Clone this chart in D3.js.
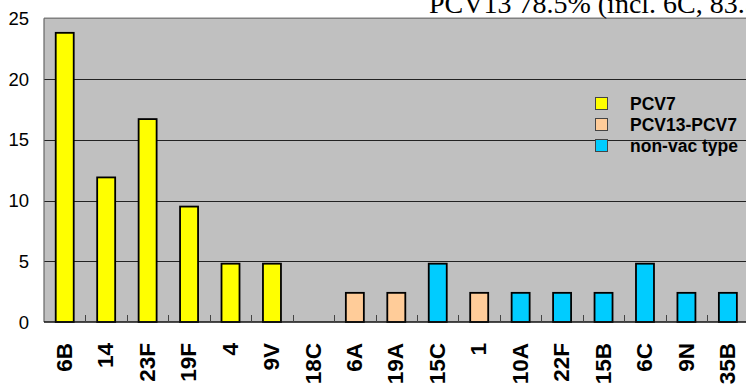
<!DOCTYPE html>
<html><head><meta charset="utf-8">
<script src="https://cdn.jsdelivr.net/npm/d3@7"></script>
<style>html,body{margin:0;padding:0;background:#fff;overflow:hidden}</style>
</head><body>
<svg id="c" width="746" height="387"></svg>
<script>
const categories = ["6B","14","23F","19F","4","9V","18C","6A","19A","15C","1","10A","22F","15B","6C","9N","35B"];
const values = [23.8,11.9,16.7,9.5,4.8,4.8,0,2.4,2.4,4.8,2.4,2.4,2.4,2.4,4.8,2.4,2.4];
const groups = ["PCV7","PCV7","PCV7","PCV7","PCV7","PCV7","PCV7","PCV13-PCV7","PCV13-PCV7","non-vac type","PCV13-PCV7","non-vac type","non-vac type","non-vac type","non-vac type","non-vac type","non-vac type"];
const legendLabels = ["PCV7","PCV13-PCV7","non-vac type"];
const legendColors = ["#ffff00","#ffcc99","#00ccff"];
const yTicks = [0,5,10,15,20,25];
const titleText = "PCV13 78.5% (incl. 6C, 83.5%)";

(function(){
const svg = d3.select("#c");
const pL = 44, pR = 748.6, pT = 18.25, pB = 322;
const x = d3.scaleBand().domain(categories).range([pL, pR]);
const y = d3.scaleLinear().domain([0,25]).range([pB, pT]);
const color = d3.scaleOrdinal().domain(legendLabels).range(legendColors);

svg.append("rect").attr("x", pL).attr("y", pT).attr("width", pR-pL).attr("height", pB-pT).attr("fill", "#c0c0c0");

svg.append("g").selectAll("line").data(yTicks.filter(d => d>0 && d<25)).join("line")
  .attr("x1", pL).attr("x2", pR).attr("y1", d => Math.round(y(d))+0.5).attr("y2", d => Math.round(y(d))+0.5)
  .attr("stroke", "#222").attr("stroke-width", 1);

svg.append("line").attr("x1", pL).attr("x2", pR).attr("y1", pT).attr("y2", pT).attr("stroke", "#808080").attr("stroke-width", 1.5);
svg.append("line").attr("x1", pL).attr("x2", pL).attr("y1", pT).attr("y2", pB).attr("stroke", "#666").attr("stroke-width", 1.2);

const lg = svg.append("g");
legendLabels.forEach((l, i) => {
  const cy = 103.5 + i*21;
  lg.append("rect").attr("x", 595.5).attr("y", cy-6).attr("width", 12).attr("height", 12)
    .attr("fill", legendColors[i]).attr("stroke", "#444").attr("stroke-width", 1);
  lg.append("text").attr("x", 630).attr("y", cy).attr("dy", "0.36em")
    .attr("font-family", "Liberation Sans, Arial, sans-serif").attr("font-weight", "bold")
    .attr("font-size", 17.5).attr("fill", "#000")
    .attr("textLength", i === 2 ? 108 : null)
    .text(l);
});

const bw = 18;
svg.append("g").selectAll("rect").data(categories.map((c,i)=>({c, v: values[i], g: groups[i]})).filter(d => d.v > 0)).join("rect")
  .attr("x", d => x(d.c) + x.bandwidth()/2 - bw/2)
  .attr("y", d => y(d.v))
  .attr("width", bw)
  .attr("height", d => y(0) - y(d.v))
  .attr("fill", d => color(d.g))
  .attr("stroke", "#000").attr("stroke-width", 1.8);

svg.append("line").attr("x1", pL).attr("x2", pR).attr("y1", pB).attr("y2", pB).attr("stroke", "#111").attr("stroke-width", 1.5);
svg.append("g").selectAll("line").data(categories.slice(1)).join("line")
  .attr("x1", d => Math.round(x(d))+0.5).attr("x2", d => Math.round(x(d))+0.5)
  .attr("y1", pB).attr("y2", pB-7).attr("stroke", "#444").attr("stroke-width", 1);

svg.append("g").selectAll("text").data(yTicks).join("text")
  .attr("x", 29).attr("y", d => y(d)).attr("dy", "0.36em").attr("text-anchor", "end")
  .attr("font-family", "Liberation Sans, Arial, sans-serif").attr("font-size", 18.5).attr("fill", "#000")
  .text(d => d);

svg.append("g").selectAll("text").data(categories).join("text")
  .attr("transform", d => `translate(${x(d)+x.bandwidth()/2 - 1},343) rotate(-90)`)
  .attr("text-anchor", "end").attr("dy", "0.36em")
  .attr("font-family", "Liberation Sans, Arial, sans-serif").attr("font-weight", "bold")
  .attr("font-size", 22.5).attr("fill", "#000")
  .text(d => d);

svg.append("text").attr("x", 429).attr("y", 13)
  .attr("font-family", "Liberation Serif, Times New Roman, serif").attr("font-size", 28).attr("fill", "#000")
  .text(titleText);
})();
</script>
</body></html>
